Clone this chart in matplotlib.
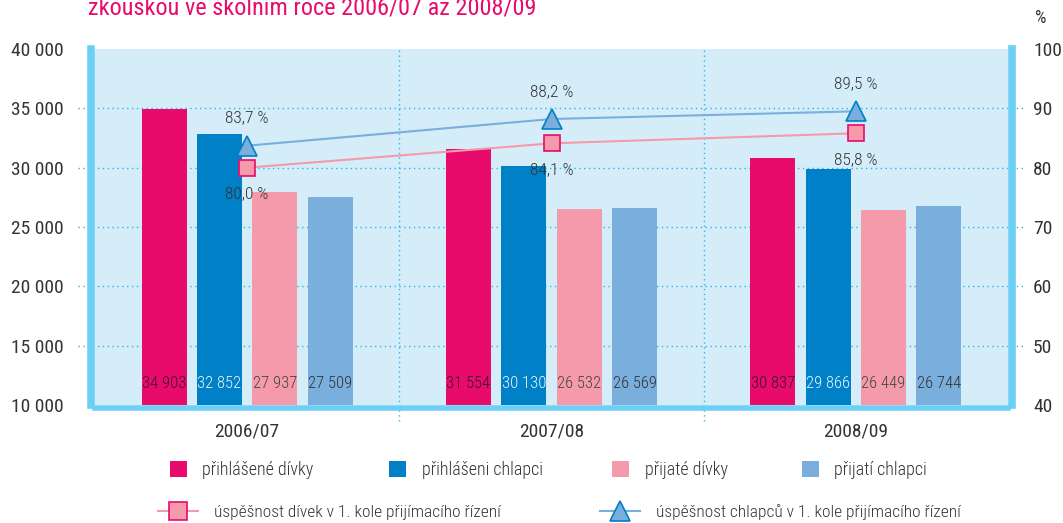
"""
Uchazeci o studium a prijati - divky / chlapci, 2006/07 az 2008/09.
"""
import matplotlib
matplotlib.use('Agg')
import matplotlib.pyplot as plt
from matplotlib.patches import Patch
from matplotlib.lines import Line2D
import numpy as np

# Data
years = ['2006/07', '2007/08', '2008/09']
girls_applied = [34903, 31554, 30837]
boys_applied = [32852, 30130, 29866]
girls_admitted = [27937, 26532, 26449]
boys_admitted = [27509, 26569, 26744]
girls_rate = [80.0, 84.1, 85.8]
boys_rate = [83.7, 88.2, 89.5]

bar_labels = ['přihlášené dívky', 'přihlášeni chlapci', 'přijaté dívky', 'přijatí chlapci']
line_labels = ['úspěšnost dívek v 1. kole přijímacího řízení',
               'úspěšnost chlapců v 1. kole přijímacího řízení']
left_ticks = [10000, 15000, 20000, 25000, 30000, 35000, 40000]
right_ticks = [40, 50, 60, 70, 80, 90, 100]

# Colours
MAGENTA = '#e90b6c'
BLUE = '#0080c6'
PINK = '#f49aaa'
LBLUE = '#7aaedc'
BG = '#d5edf9'
BORDER = '#6dcff6'
GRID = '#29b5e8'
TXT = '#333333'

plt.rcParams['font.family'] = ['Roboto Condensed', 'Liberation Sans', 'DejaVu Sans']

W, H = 1063, 523


def thousands(v):
    return f"{v:,}".replace(',', ' ')


def pct(v):
    return f"{v:.1f}".replace('.', ',') + ' %'


fig = plt.figure(figsize=(W / 100, H / 100), dpi=100)
# data area = inside of the thick frame
ax = fig.add_axes([95 / W, 1 - 405 / H, (1008 - 95) / W, (405 - 49) / H])
ax.set_facecolor(BG)

x = np.arange(len(years))
width = 0.148
step = 0.182
series = [girls_applied, boys_applied, girls_admitted, boys_admitted]
colors = [MAGENTA, BLUE, PINK, LBLUE]
label_colors = ['#3a1424', '#e8f4fc', '#444444', '#333333']

for i, (vals, col, lcol) in enumerate(zip(series, colors, label_colors)):
    pos = x + (i - 1.5) * step
    ax.bar(pos, vals, width=width, color=col, zorder=3)
    for p, v in zip(pos, vals):
        ax.text(p, 11800, thousands(v), ha='center', va='center',
                fontsize=12, fontweight='light', color=lcol, zorder=5)

ax.set_xlim(-0.5, 2.5)
ax.set_ylim(10000, 40000)

# dotted grid, sticking out a bit on both sides of the frame
for y in left_ticks[1:-1]:
    ax.axhline(y, xmin=-0.0186, xmax=1.0164, color=GRID, lw=1.0,
               linestyle=(0, (1, 2.5)), clip_on=False, zorder=1)
for xv in [0.5, 1.5]:
    ax.axvline(xv, ymin=-0.045, ymax=1, color=GRID, lw=1.0,
               linestyle=(0, (1, 2.5)), clip_on=False, zorder=1)

ax.set_yticks(left_ticks)
ax.set_yticklabels([thousands(t) for t in left_ticks])
ax.set_xticks(x)
ax.set_xticklabels(years)
ax.tick_params(axis='y', length=0, pad=19.5, labelsize=14, labelcolor=TXT)
ax.tick_params(axis='x', length=0, pad=11, labelsize=14, labelcolor=TXT)

ax.spines['left'].set_linewidth(5.5)
ax.spines['right'].set_linewidth(5.5)
ax.spines['bottom'].set_linewidth(4)
ax.spines['left'].set_position(('outward', 2.9))
ax.spines['right'].set_position(('outward', 2.9))
ax.spines['bottom'].set_position(('outward', 1.8))
for side in ['left', 'right', 'bottom']:
    ax.spines[side].set_color(BORDER)
ax.spines['top'].set_visible(False)

# right axis - success rate
ax2 = ax.twinx()
ax2.set_ylim(40, 100)
ax2.set_yticks(right_ticks)
ax2.tick_params(axis='y', length=0, pad=18, labelsize=14, labelcolor=TXT)
for s in ax2.spines.values():
    s.set_visible(False)

ax2.plot(x, boys_rate, color=LBLUE, lw=1.5, marker='^', markersize=14,
         markerfacecolor=LBLUE, markeredgecolor=BLUE, markeredgewidth=1.2, zorder=6)
ax2.plot(x, girls_rate, color=PINK, lw=1.5, marker='s', markersize=12,
         markerfacecolor=PINK, markeredgecolor=MAGENTA, markeredgewidth=1.2, zorder=6)

for xi, b, g in zip(x, boys_rate, girls_rate):
    ax2.annotate(pct(b), (xi, b), xytext=(0, 20), textcoords='offset points',
                 ha='center', va='center', fontsize=12.5, fontweight='light', color=TXT)
    ax2.annotate(pct(g), (xi, g), xytext=(0, -19), textcoords='offset points',
                 ha='center', va='center', fontsize=12.5, fontweight='light', color=TXT)

fig.text(1041 / W, 1 - 18 / H, '%', fontsize=13, color=TXT, ha='center', va='center')

# title (cut by the top edge, as in the source)
fig.text(88 / W, 1 - 14 / H, 'zkouškou ve školním roce 2006/07 až 2008/09',
         fontsize=17.5, color=MAGENTA, ha='left', va='baseline')

# legend, row 1 - bars
row1_x = [170, 389, 612, 802]
for c, lab, lx in zip(colors, bar_labels, row1_x):
    fig.legend([Patch(facecolor=c, edgecolor='none')], [lab], loc='center left',
               bbox_to_anchor=(lx / W, 1 - 470 / H), frameon=False,
               prop={'size': 13, 'weight': 'light'},
               handlelength=0.95, handleheight=0.95, handletextpad=0.85,
               borderpad=0, borderaxespad=0, labelcolor=TXT)

# legend, row 2 - lines
h2 = [Line2D([0], [0], color=PINK, lw=1.5, marker='s', markersize=13,
             markerfacecolor=PINK, markeredgecolor=MAGENTA, markeredgewidth=1.2),
      Line2D([0], [0], color=LBLUE, lw=1.5, marker='^', markersize=15,
             markerfacecolor=LBLUE, markeredgecolor=BLUE, markeredgewidth=1.2)]
row2_x = [158, 600]
for h, lab, lx in zip(h2, line_labels, row2_x):
    fig.legend([h], [lab], loc='center left', bbox_to_anchor=(lx / W, 1 - 512 / H),
               frameon=False, prop={'size': 12.5, 'weight': 'light'},
               handlelength=2.3, handletextpad=0.95,
               borderpad=0, borderaxespad=0, labelcolor=TXT)

fig.savefig('out.png', dpi=100)
